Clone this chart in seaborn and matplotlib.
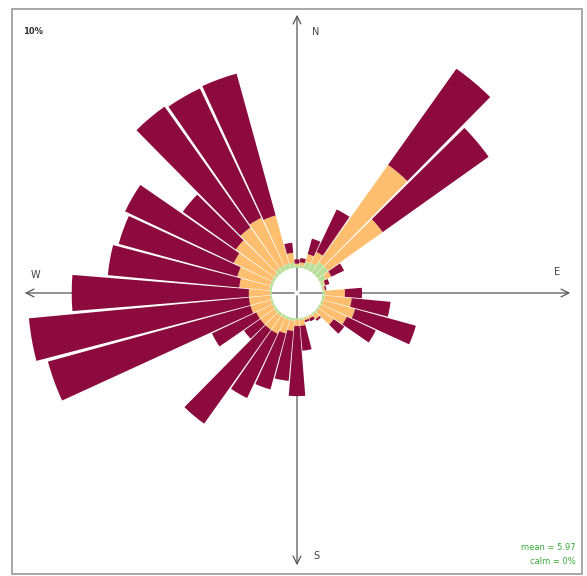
import numpy as np
import pandas as pd
import seaborn as sns
import matplotlib.pyplot as plt
from matplotlib.patches import Rectangle

sns.set_style("white")

# wind direction sectors (deg, clockwise from north)
directions = list(range(0, 360, 10))

# frequency (%) per speed band
low_band = [0.10, 0.10, 0.25, 0.29, 0.46, 0.46, 0.25, 0.10, 0.05, 0.10,
            0.10, 0.07, 0.07, 0.07, 0.07, 0.04, 0.04, 0.07, 0.07, 0.10,
            0.10, 0.10, 0.10, 0.10, 0.07, 0.07, 0.07, 0.07, 0.10, 0.10,
            0.10, 0.10, 0.18, 0.18, 0.18, 0.18]
mid_band = [0.05, 0.10, 0.29, 0.43, 4.25, 2.39, 0.21, 0.05, 0.05, 0.71,
            0.96, 1.18, 1.00, 0.64, 0.18, 0.07, 0.07, 0.21, 0.21, 0.36,
            0.50, 0.61, 0.61, 0.61, 0.64, 0.75, 0.75, 0.75, 1.07, 1.21,
            1.50, 1.68, 1.79, 1.89, 1.79, 0.36]
high_band = [0.15, 0.15, 0.57, 1.68, 4.21, 4.64, 0.50, 0.15, 0.05, 0.61,
             1.39, 2.25, 1.14, 0.46, 0.07, 0.11, 0.07, 0.89, 2.50, 1.79,
             2.07, 2.54, 4.11, 0.71, 1.75, 7.50, 7.89, 6.32, 4.71, 4.39,
             4.29, 2.32, 5.29, 5.11, 5.25, 0.36]

band_names = ['low', 'mid', 'high']
band_colours = sns.color_palette(['#b9df98', '#fdbf6f', '#8c0a3e'])

mean_speed = 5.97
calm_pct = 0
hole = 0.9     # empty circle in the middle, in % units
rmax = 10.1    # edge of the frame = 10%

df = pd.DataFrame({'dir': directions, 'low': low_band,
                   'mid': mid_band, 'high': high_band})

W, H = 587, 576
cx, cy, R = 297, 293, 283

fig = plt.figure(figsize=(W / 100, H / 100), dpi=100)

# background: frame, compass arrows and labels (pixel coords)
bg = fig.add_axes([0, 0, 1, 1])
bg.set_xlim(0, W)
bg.set_ylim(H, 0)
bg.axis('off')
bg.add_patch(Rectangle((12, 9), 570, 565, fill=False, ec='#a0a0a0', lw=1.3))

arrow = dict(arrowstyle='->', color='#555555', lw=0.9, mutation_scale=14)
for end in [(cx, 12), (cx, 568), (22, cy), (573, cy)]:
    bg.annotate('', xy=end, xytext=(cx, cy), arrowprops=arrow)

lab = dict(fontsize=7, color='#444444', ha='center', va='center')
bg.text(316, 32, 'N', **lab)
bg.text(316, 556, 'S', **lab)
bg.text(35, 275, 'W', **lab)
bg.text(557, 272, 'E', **lab)
bg.text(23, 31, '10%', fontsize=6, fontweight='bold', color='#333333',
        ha='left', va='center')
bg.text(576, 548, 'mean = %.2f' % mean_speed, fontsize=6, color='#3aaa3a',
        ha='right', va='center')
bg.text(576, 562, 'calm = %d%%' % calm_pct, fontsize=6, color='#3aaa3a',
        ha='right', va='center')

# the rose itself
ax = fig.add_axes([(cx - R) / W, (H - cy - R) / H, 2 * R / W, 2 * R / H],
                  projection='polar')
ax.set_theta_zero_location('N')
ax.set_theta_direction(-1)
ax.patch.set_alpha(0)

theta = np.deg2rad(df['dir'])
bottom = np.full(len(df), hole)
for name, col in zip(band_names, band_colours):
    ax.bar(theta, df[name], width=np.deg2rad(9.2), bottom=bottom,
           color=col, edgecolor='none')
    bottom = bottom + df[name].values

ax.set_ylim(0, rmax)
ax.axis('off')

fig.savefig('out.png', dpi=100)
